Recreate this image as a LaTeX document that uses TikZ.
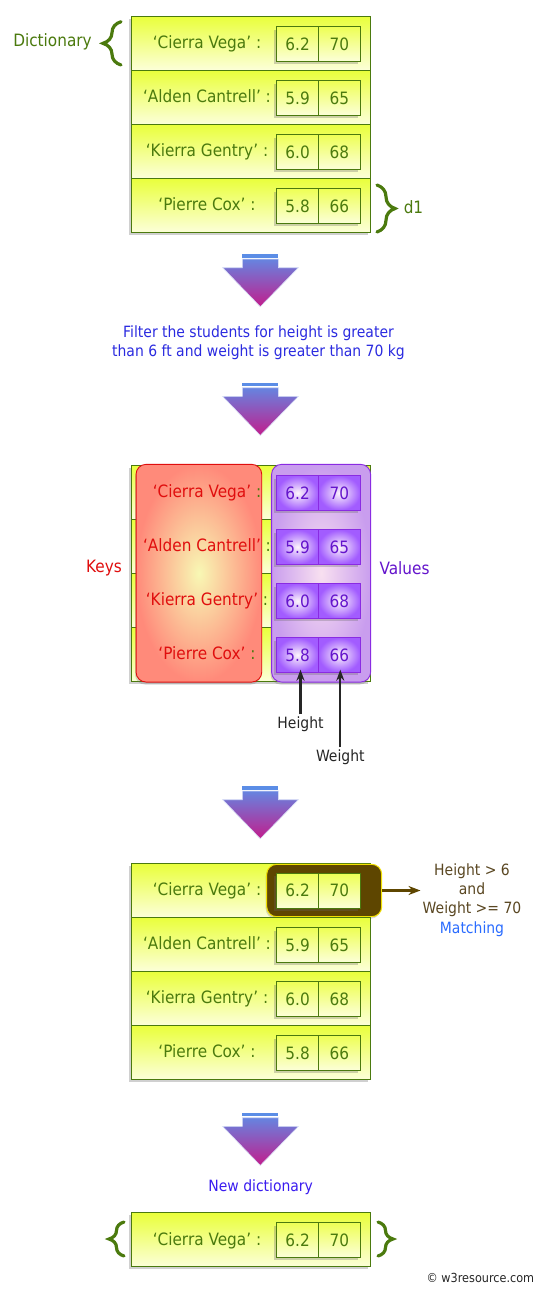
\documentclass[tikz,border=0pt]{standalone}
\usepackage{fontspec}
\setmainfont{DejaVu Sans}[FakeStretch=0.9]
\usepackage{tikz}
\usetikzlibrary{arrows.meta,calc,decorations.pathreplacing,shadows}

\definecolor{dgreen}{HTML}{4B7A0E}
\definecolor{rowtop}{HTML}{E9FF3A}
\definecolor{rowbot}{HTML}{FCFFD8}
\definecolor{celltop}{HTML}{EEFF55}
\definecolor{keyred}{HTML}{E00E0E}
\definecolor{keyedge}{HTML}{FF8A7A}
\definecolor{keymid}{HTML}{F8F8B4}
\definecolor{valpurple}{HTML}{6414CC}
\definecolor{valedge}{HTML}{C99DEE}
\definecolor{valmid}{HTML}{F8E0F0}
\definecolor{valline}{HTML}{8A2BE2}
\definecolor{cellpurple}{HTML}{A25CFF}
\definecolor{filterblue}{HTML}{2B2BE0}
\definecolor{newblue}{HTML}{3A1CF0}
\definecolor{matchblue}{HTML}{2A6CFF}
\definecolor{hlbrown}{HTML}{5E4600}
\definecolor{hlyellow}{HTML}{F2E000}
\definecolor{condbrown}{HTML}{5A4722}
\definecolor{arrtop}{HTML}{6684E0}
\definecolor{arrbot}{HTML}{C21D8C}
\definecolor{arrbar}{HTML}{5B8DE6}

\tikzset{
  rowbox/.style={draw=dgreen, line width=0.9pt, top color=rowtop, bottom color=rowbot,
    minimum width=239pt, minimum height=54pt, inner sep=0pt,
    drop shadow={shadow xshift=-2.5pt, shadow yshift=-2.5pt, opacity=0.3, fill=black!60}},
  cellbox/.style={draw=dgreen, line width=0.9pt, top color=celltop, bottom color=rowbot,
    minimum width=41.7pt, minimum height=34.5pt, inner sep=0pt, text=dgreen,
    font=\fontsize{17pt}{20pt}\selectfont, text height=12.4pt, text depth=0pt,
    drop shadow={shadow xshift=-2.5pt, shadow yshift=-3pt, opacity=0.3, fill=black!60}},
  valbox/.style={cellbox, draw=valline, text=valpurple, inner color=white!70!valmid,
    outer color=cellpurple},
  keytext/.style={text=dgreen, inner sep=0pt, font=\fontsize{17pt}{20pt}\selectfont,
    text height=12.4pt, text depth=0pt},
  keysbox/.style={draw=keyred, line width=0.9pt, rounded corners=10pt, inner color=keymid,
    outer color=keyedge, minimum width=125.7pt, minimum height=217.7pt,
    drop shadow={shadow xshift=-1pt, shadow yshift=-2.5pt, opacity=0.25, fill=black!60}},
  valuesbox/.style={keysbox, draw=valline, inner color=valmid, outer color=valedge,
    minimum width=99pt},
  hlbox/.style={draw=hlyellow, line width=1pt, rounded corners=10pt, fill=hlbrown,
    minimum width=115pt, minimum height=52.4pt,
    drop shadow={shadow xshift=-1pt, shadow yshift=-2pt, opacity=0.25, fill=black!60}},
  label/.style={font=\fontsize{17pt}{20pt}\selectfont, inner sep=2pt},
  small/.style={font=\fontsize{15.5pt}{19.3pt}\selectfont, inner sep=2pt},
  curly/.style={draw=dgreen, line width=3.2pt, line cap=round, decorate,
    decoration={brace, amplitude=18pt}},
  ptr/.style={draw=black!85, line width=2.2pt, -{Stealth[length=11pt,width=8pt]}},
  condptr/.style={draw=hlbrown, line width=2.4pt, -{Stealth[length=12pt,width=9pt]}}
}

\begin{document}
\begin{tikzpicture}[x=1pt,y=-1pt]
\path[fill=white] (0,0) rectangle (539,1293);

% first dictionary
\node[rowbox] (cv1) at (250.5,43) {};
\node[cellbox] (cv1w) at (339.3,44) {70};
\node[cellbox] (cv1h) at (297.6,44) {6.2};
\node[keytext] (cv1k) at (207,42.5) {‘Cierra Vega’ :};
\node[rowbox] (ac1) at (250.5,97) {};
\node[cellbox] (ac1w) at (339.3,98) {65};
\node[cellbox] (ac1h) at (297.6,98) {5.9};
\node[keytext] (ac1k) at (207,96.5) {‘Alden Cantrell’ :};
\node[rowbox] (kg1) at (250.5,151) {};
\node[cellbox] (kg1w) at (339.3,152) {68};
\node[cellbox] (kg1h) at (297.6,152) {6.0};
\node[keytext] (kg1k) at (207,150.5) {‘Kierra Gentry’ :};
\node[rowbox] (pc1) at (250.5,205) {};
\node[cellbox] (pc1w) at (339.3,206) {66};
\node[cellbox] (pc1h) at (297.6,206) {5.8};
\node[keytext] (pc1k) at (207,204.5) {‘Pierre Cox’ :};

\node[label, text=dgreen] (dict) at (52.5,42.3) {Dictionary};
\node[label, text=dgreen] (d1) at (413.5,206.7) {d1};
\draw[curly] (121,65) -- (121,21.7);
\draw[curly] (377,185) -- (377,232);

% block arrows
\foreach \y in {254,382.7,786,1112.7} {
  \fill[arrbar] (242.3,\y) rectangle (278.3,\y+3.5);
  \shadedraw[top color=arrtop, bottom color=arrbot, draw=white!75!arrtop, line width=0.6pt]
    (242.3,\y+5) -- (278.3,\y+5) -- (278.3,\y+13.7) -- (298.3,\y+13.7) -- (260.3,\y+52.7)
    -- (222.7,\y+13.7) -- (242.3,\y+13.7) -- cycle;
}

\node[small, text=filterblue, align=center] (filter) at (258.5,342.5)
  {Filter the students for height is greater\\than 6 ft and weight is greater than 70 kg};

% keys and values
\node[rowbox] (cv2) at (250.5,492) {};
\node[rowbox] (ac2) at (250.5,546) {};
\node[rowbox] (kg2) at (250.5,600) {};
\node[rowbox] (pc2) at (250.5,654) {};
\node[keysbox] (keys) at (198.9,573.2) {};
\node[valuesbox] (values) at (321.1,573.2) {};
\node[keytext] (cv2k) at (207,491.5) {{\color{keyred}‘Cierra Vega’} :};
\node[keytext] (ac2k) at (207,545.5) {{\color{keyred}‘Alden Cantrell’} :};
\node[keytext] (kg2k) at (207,599.5) {{\color{keyred}‘Kierra Gentry’} :};
\node[keytext] (pc2k) at (207,653.5) {{\color{keyred}‘Pierre Cox’} :};
\node[valbox] (cv2w) at (339.3,493) {70};
\node[valbox] (cv2h) at (297.6,493) {6.2};
\node[valbox] (ac2w) at (339.3,547) {65};
\node[valbox] (ac2h) at (297.6,547) {5.9};
\node[valbox] (kg2w) at (339.3,601) {68};
\node[valbox] (kg2h) at (297.6,601) {6.0};
\node[valbox] (pc2w) at (339.3,655) {66};
\node[valbox] (pc2h) at (297.6,655) {5.8};

\node[label, text=keyred] (keyslbl) at (104,568) {Keys};
\node[label, text=valpurple] (valueslbl) at (404.5,568) {Values};
\node[small, text=black!85] (height) at (300.5,724) {Height};
\node[small, text=black!85] (weight) at (340.3,757) {Weight};
\draw[ptr, shorten >=-3pt] (height) -- (height |- pc2h.south);
\draw[ptr, shorten >=-3pt] (weight) -- (weight |- pc2w.south);

% filtering
\node[rowbox] (cv3) at (250.5,890) {};
\node[hlbox] (hl) at (324.2,890.5) {};
\node[cellbox] (cv3w) at (339.3,890.7) {70};
\node[cellbox] (cv3h) at (297.6,890.7) {6.2};
\node[keytext] (cv3k) at (207,889.5) {‘Cierra Vega’ :};
\node[rowbox] (ac3) at (250.5,944) {};
\node[cellbox] (ac3w) at (339.3,945) {65};
\node[cellbox] (ac3h) at (297.6,945) {5.9};
\node[keytext] (ac3k) at (207,943.5) {‘Alden Cantrell’ :};
\node[rowbox] (kg3) at (250.5,998) {};
\node[cellbox] (kg3w) at (339.3,999) {68};
\node[cellbox] (kg3h) at (297.6,999) {6.0};
\node[keytext] (kg3k) at (207,997.5) {‘Kierra Gentry’ :};
\node[rowbox] (pc3) at (250.5,1052) {};
\node[cellbox] (pc3w) at (339.3,1053) {66};
\node[cellbox] (pc3h) at (297.6,1053) {5.8};
\node[keytext] (pc3k) at (207,1051.5) {‘Pierre Cox’ :};

\node[small, text=condbrown, align=center] (cond) at (472,900)
  {Height > 6\\and\\Weight >= 70\\{\color{matchblue}Matching}};
\draw[condptr] (hl) -- (hl -| cond.west);

% new dictionary
\node[small, text=newblue] (newdict) at (260.7,1187.3) {New dictionary};
\node[rowbox] (cv4) at (250.5,1239.5) {};
\node[cellbox] (cv4w) at (339.3,1240) {70};
\node[cellbox] (cv4h) at (297.6,1240) {6.2};
\node[keytext] (cv4k) at (207,1239) {‘Cierra Vega’ :};
\draw[curly, decoration={amplitude=15pt}] (124,1256) -- (124,1222);
\draw[curly, decoration={amplitude=15pt}] (378,1222) -- (378,1256);

\node[font=\fontsize{12.5pt}{14pt}\selectfont, text=black!85, inner sep=1pt] (credit)
  at (480.4,1277.7) {© w3resource.com};
\end{tikzpicture}
\end{document}
